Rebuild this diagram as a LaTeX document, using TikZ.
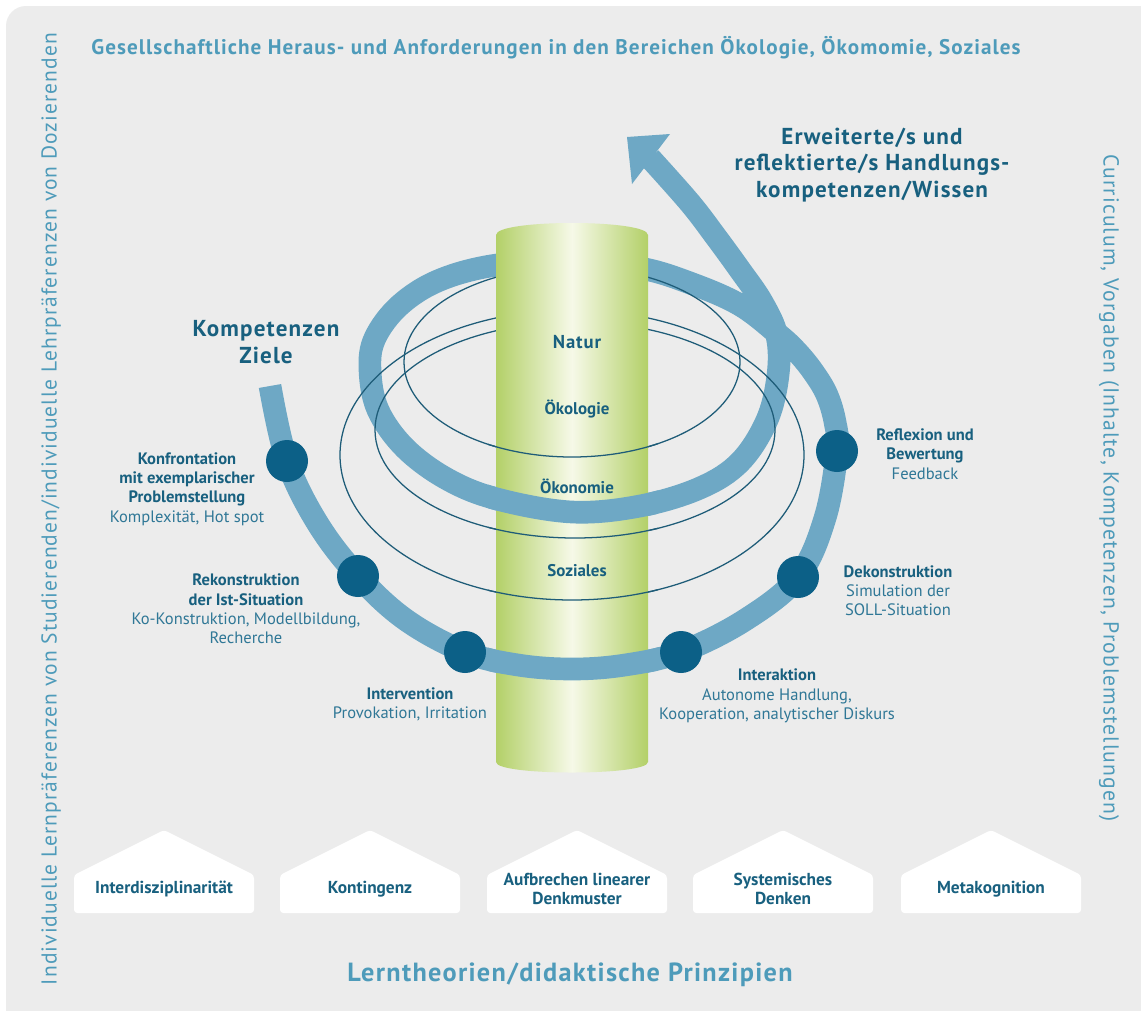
\documentclass[tikz,border=0pt]{standalone}
\usepackage{fontspec}
\setmainfont{PT Sans}
\newfontfamily\spfont[LetterSpace=5]{PT Sans}
\usepackage{graphicx}
\definecolor{bgc}{HTML}{ECECEC}
\definecolor{bandc}{HTML}{6EA8C5}
\definecolor{dotc}{HTML}{0C6087}
\definecolor{thinc}{HTML}{1E5C78}
\definecolor{darkc}{HTML}{18607F}
\definecolor{midc}{HTML}{2F7796}
\definecolor{lightc}{HTML}{4E9BBA}
\definecolor{grn}{HTML}{B3D068}
\definecolor{grnw}{HTML}{F6F9E8}
\newcommand{\fitw}[2]{\resizebox{#1}{!}{#2}}
\tikzset{
  bandline/.style={draw=bandc, line width=17pt},
  thinline/.style={draw=thinc, line width=0.95pt},
  bandpath/.style={insert path={plot[smooth, tension=0.6] coordinates {
    (270,386) (287,461) (318,524) (358,576) (406,620) (465,652) (518,665) (572,669)
    (625,665) (681,652) (745,620) (798,577) (825,518) (837,451) (835,422) (827,395)
    (814,373) (798,353) (779,335) (740,305) (690,283) (640,268) (572,261) (497,265)
    (440,280) (400,305) (375,338) (370,370) (378,410) (405,448) (447,479) (497,499)
    (572,512) (640,506) (700,488) (740,462) (767,420) (778,375) (777,336) (762,302)
    (740,270) (716,237) (690,203) (650,158)}}},
  stepdot/.style={circle, fill=dotc, minimum size=31.5pt, inner sep=0pt},
  steplbl/.style={align=center, inner sep=0pt, font=\fontsize{12.4}{14.4}\selectfont, text=midc},
  cyllbl/.style={inner sep=0pt, font=\fontsize{12.7}{14}\selectfont\bfseries, text=darkc},
  headlbl/.style={align=center, inner sep=0pt, font=\spfont\fontsize{17.3}{20}\selectfont\bfseries, text=darkc},
  houselbl/.style={align=center, inner sep=0pt, font=\fontsize{13}{14.5}\selectfont\bfseries, text=darkc},
  framelbl/.style={inner sep=0pt, text=lightc},
  housebox/.style={fill=white, rounded corners=2.5pt}
}
\newcommand{\housepent}[1]{\fill[housebox] ({#1-90},913) -- ({#1-90},875) -- (#1,830) -- ({#1+90},875) -- ({#1+90},913) -- cycle;}
\begin{document}
\begin{tikzpicture}[x=0.75pt,y=-0.75pt]
\useasboundingbox (0,0) rectangle (1141,1010);
\fill[white] (0,0) rectangle (1141,1010);
\fill[bgc, rounded corners=15pt] (6,6) rectangle (1180,1050);

% spiral band (back) and thin orbits
\draw[bandline, bandpath];
\draw[thinline] (572,362) ellipse [x radius=126pt, y radius=71.25pt];
\draw[thinline] (572,455) ellipse [x radius=174pt, y radius=108.75pt];
\draw[thinline] (575,430) ellipse [x radius=150pt, y radius=81pt];

% cylinder
\shade[left color=grn, right color=grn, middle color=grnw]
  (496,235) -- (496,762) .. controls (496,776) and (648,776) .. (648,762)
  -- (648,235) .. controls (648,219) and (496,219) .. (496,235) -- cycle;

% front parts
\begin{scope}
  \clip (488,385) rectangle (658,720);
  \draw[bandline, bandpath];
  \draw[thinline] (572,362) ellipse [x radius=126pt, y radius=71.25pt];
  \draw[thinline] (572,455) ellipse [x radius=174pt, y radius=108.75pt];
  \draw[thinline] (575,430) ellipse [x radius=150pt, y radius=81pt];
\end{scope}

% arrow head
\fill[bandc] (627,137) -- (670,134) -- (632,184) -- cycle;

% cylinder labels
\node[cyllbl, font=\spfont\fontsize{14}{14}\selectfont\bfseries] (natur) at (577,342) {Natur};
\node[cyllbl] (oekol) at (577,409) {Ökologie};
\node[cyllbl] (oekon) at (577,486) {Ökonomie};
\node[cyllbl] (soz) at (577,571) {Soziales};

% step dots
\node[stepdot] (s1) at (287,461) {};
\node[stepdot] (s2) at (358,576) {};
\node[stepdot] (s3) at (465,652) {};
\node[stepdot] (s4) at (681,652) {};
\node[stepdot] (s5) at (798,577) {};
\node[stepdot] (s6) at (837,451) {};

% step labels
\node[steplbl] (l1) at (187,489) {{\color{darkc}\bfseries Konfrontation}\\{\color{darkc}\bfseries mit exemplarischer}\\{\color{darkc}\bfseries Problemstellung}\\Komplexität, Hot spot};
\node[steplbl] (l2) at (246,609) {{\color{darkc}\bfseries Rekonstruktion}\\{\color{darkc}\bfseries der Ist-Situation}\\Ko-Konstruktion, Modellbildung,\\Recherche};
\node[steplbl] (l3) at (410,704) {{\color{darkc}\bfseries Intervention}\\Provokation, Irritation};
\node[steplbl] (l4) at (777,696) {{\color{darkc}\bfseries Interaktion}\\Autonome Handlung,\\Kooperation, analytischer Diskurs};
\node[steplbl] (l5) at (898,591) {{\color{darkc}\bfseries Dekonstruktion}\\Simulation der\\SOLL-Situation};
\node[steplbl] (l6) at (925,454) {{\color{darkc}\bfseries Reflexion und}\\{\color{darkc}\bfseries Bewertung}\\Feedback};

% headings
\node[headlbl] (ziele) at (266,342) {Kompetenzen\\Ziele};
\node[headlbl] (wissen) at (872,165) {Erweiterte/s und\\reflektierte/s Handlungs-\\kompetenzen/Wissen};

% houses
\housepent{164}\housepent{370}\housepent{577}\housepent{783}\housepent{991}
\node[houselbl] (h1) at (164,889) {Interdisziplinarität};
\node[houselbl] (h2) at (370,889) {Kontingenz};
\node[houselbl] (h3) at (577,889) {Aufbrechen linearer\\Denkmuster};
\node[houselbl] (h4) at (783,889) {Systemisches\\Denken};
\node[houselbl] (h5) at (991,889) {Metakognition};

% frame texts
\node[framelbl] (top) at (556,48) {\fitw{697pt}{\spfont\fontsize{12.5}{14}\selectfont\bfseries Gesellschaftliche Heraus- und Anforderungen in den Bereichen Ökologie, Ökomomie, Soziales}};
\node[framelbl] (bottom) at (570,975) {\fitw{334pt}{\spfont\fontsize{12.5}{14}\selectfont\bfseries Lerntheorien/didaktische Prinzipien}};
\node[framelbl, rotate=90] (left) at (51,509) {\fitw{714pt}{\spfont\fontsize{13}{14}\selectfont Individuelle Lernpräferenzen von Studierenden/individuelle Lehrpräferenzen von Dozierenden}};
\node[framelbl, rotate=-90] (right) at (1109,488) {\fitw{500pt}{\spfont\fontsize{13}{14}\selectfont Curriculum, Vorgaben (Inhalte, Kompetenzen, Problemstellungen)}};
\end{tikzpicture}
\end{document}
